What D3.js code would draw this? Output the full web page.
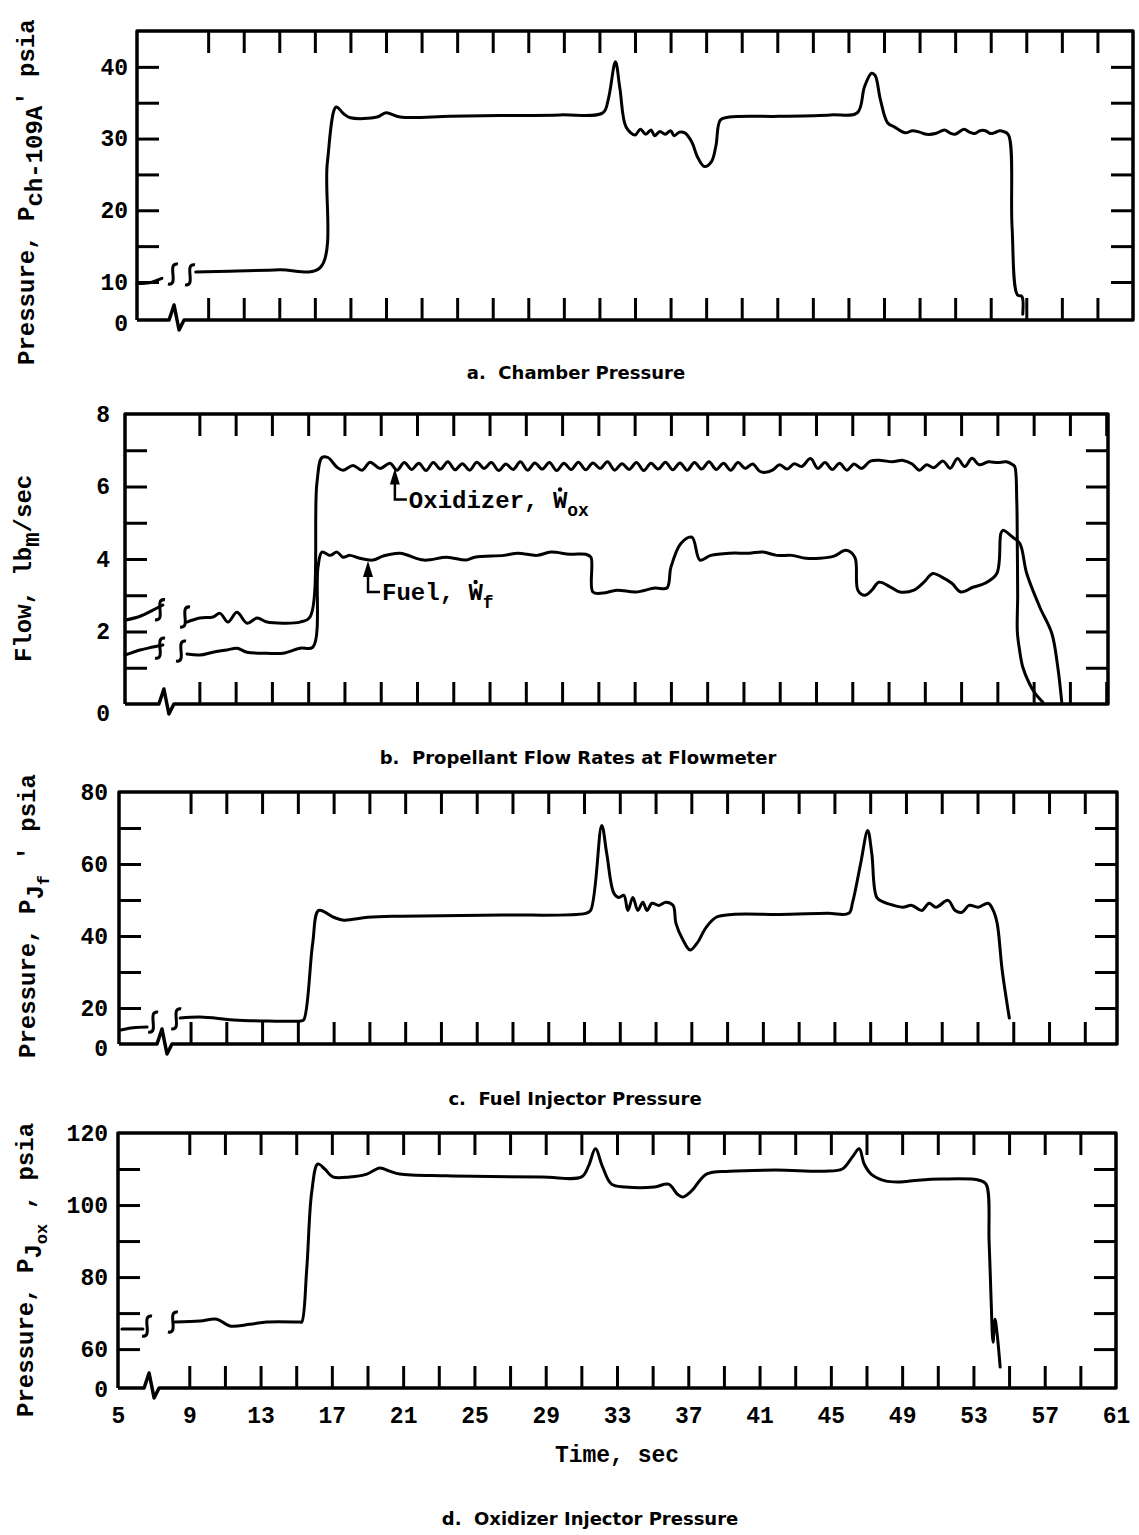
<!DOCTYPE html>
<html>
<head>
<meta charset="utf-8">
<script src="https://cdn.jsdelivr.net/npm/d3@7"></script>
<style>
  body { margin: 0; background: #fff; }
</style>
</head>
<body>
<div id="chart"></div>
<script>
// ---------- data (time in sec) ----------
const timeTicks = [9, 11, 13, 15, 17, 19, 21, 23, 25, 27, 29, 31, 33, 35, 37, 39, 41, 43, 45, 47, 49, 51, 53, 55, 57, 59];
const timeLabels = [5, 9, 13, 17, 21, 25, 29, 33, 37, 41, 45, 49, 53, 57, 61];

// a. chamber pressure, psia (suppressed zero)
const chamberYTicks = [10, 15, 20, 25, 30, 35, 40];
const chamberYLabels = ["0", "10", "20", "30", "40"];
const chamberYLabelAt = [4.7, 10, 20, 30, 40];
const chamberPre = [[5.0, 9.8], [5.7, 9.9], [6.4, 10.5]];
const chamberBreaks = [[7.02, 11.1], [7.98, 11.0]];
const chamberMain = [
  [8.3, 11.4], [10.2, 11.5], [13.0, 11.7], [15.3, 12.0], [15.7, 26.6], [16.2, 34.4], [16.6, 33.5],
  [17.0, 32.9], [18.5, 33.0], [19.0, 33.6], [19.8, 33.0], [22.6, 33.1], [25.4, 33.2], [28.8, 33.3],
  [31.2, 33.6], [31.5, 35.5], [31.9, 40.7], [32.15, 37.0], [32.5, 31.6], [33.0, 30.5], [33.3, 31.3],
  [33.6, 30.6], [33.9, 31.2], [34.1, 30.4], [34.4, 31.0], [34.7, 30.6], [35.0, 31.1], [35.2, 30.4],
  [35.5, 30.9], [35.8, 30.8], [36.2, 29.5], [36.5, 27.5], [36.9, 26.1], [37.3, 26.8], [37.55, 29.0],
  [37.8, 32.6], [38.3, 33.0], [41.1, 33.1], [44.0, 33.3], [45.5, 33.6], [45.9, 37.2], [46.3, 39.1],
  [46.5, 38.8], [46.8, 35.4], [47.2, 32.2], [47.6, 31.6], [48.2, 30.8], [48.6, 31.1], [49.0, 30.9],
  [49.4, 30.6], [49.9, 30.7], [50.4, 31.2], [50.7, 30.8], [51.0, 30.6], [51.5, 31.3], [51.8, 30.9],
  [52.1, 30.7], [52.4, 31.1], [52.7, 31.1], [53.0, 30.7], [53.2, 30.8], [53.5, 31.1], [53.7, 31.0],
  [54.0, 30.5], [54.2, 17.7], [54.5, 8.2], [54.75, 8.0], [54.8, 5.5]
];

// b. propellant flow rates, lbm/sec
const flowYTicks = [1, 2, 3, 4, 5, 6, 7];
const flowYLabels = ["0", "2", "4", "6", "8"];
const flowYLabelAt = [0, 2, 4, 6, 8];
const oxPre = [[4.9, 2.31], [5.73, 2.42], [6.44, 2.59], [6.99, 2.73]];
const oxBreaks = [[6.83, 2.6], [8.21, 2.4]];
const oxMain = [
  [8.32, 2.26], [9.03, 2.37], [9.75, 2.4], [10.14, 2.5], [10.58, 2.26], [11.07, 2.53], [11.63, 2.23],
  [12.18, 2.37], [12.73, 2.26], [13.61, 2.23], [14.55, 2.26], [15.1, 2.4], [15.48, 6.09], [15.76, 6.8],
  [16.09, 6.8], [16.59, 6.53], [16.92, 6.45], [17.47, 6.58], [17.97, 6.45], [18.41, 6.67], [18.96, 6.5],
  [19.51, 6.64], [19.9, 6.45], [20.3, 6.66], [20.7, 6.47], [21.1, 6.64], [21.5, 6.44], [21.9, 6.66],
  [22.3, 6.48], [22.7, 6.68], [23.1, 6.46], [23.5, 6.63], [23.9, 6.45], [24.3, 6.67], [24.7, 6.5],
  [25.1, 6.66], [25.5, 6.44], [25.9, 6.62], [26.3, 6.47], [26.7, 6.68], [27.1, 6.45], [27.5, 6.65],
  [27.9, 6.48], [28.3, 6.66], [28.7, 6.44], [29.1, 6.64], [29.5, 6.47], [29.9, 6.67], [30.3, 6.46],
  [30.7, 6.65], [31.1, 6.5], [31.5, 6.68], [31.9, 6.45], [32.3, 6.63], [32.7, 6.47], [33.1, 6.66],
  [33.5, 6.44], [33.9, 6.64], [34.3, 6.48], [34.7, 6.67], [35.1, 6.46], [35.5, 6.65], [35.9, 6.45],
  [36.3, 6.66], [36.7, 6.48], [37.1, 6.68], [37.5, 6.47], [37.9, 6.64], [38.3, 6.45], [38.7, 6.66],
  [39.1, 6.5], [39.5, 6.62], [39.9, 6.42], [40.2, 6.39], [40.6, 6.45], [41.0, 6.6], [41.4, 6.48],
  [41.8, 6.63], [42.2, 6.55], [42.7, 6.77], [43.1, 6.5], [43.5, 6.66], [43.9, 6.47], [44.3, 6.64],
  [44.7, 6.45], [45.1, 6.62], [45.5, 6.5], [46.0, 6.7], [46.6, 6.72], [47.2, 6.68], [47.8, 6.72],
  [48.3, 6.62], [48.7, 6.45], [49.1, 6.6], [49.5, 6.52], [50.0, 6.7], [50.4, 6.5], [50.8, 6.77],
  [51.2, 6.55], [51.6, 6.78], [52.0, 6.6], [52.5, 6.68], [53.0, 6.66], [53.5, 6.68], [53.85, 6.6],
  [53.96, 6.55], [54.07, 5.6], [54.1, 4.3], [54.12, 3.0], [54.1, 2.0], [54.22, 1.5], [54.4, 1.02],
  [54.73, 0.6], [55.07, 0.3], [55.51, 0.05]
];
const fuelPre = [[4.9, 1.35], [5.73, 1.49], [6.44, 1.57], [6.99, 1.63]];
const fuelBreaks = [[6.83, 1.54], [7.99, 1.46]];
const fuelMain = [
  [8.32, 1.38], [9.03, 1.35], [9.75, 1.43], [10.52, 1.49], [11.07, 1.54], [11.63, 1.43], [12.73, 1.4],
  [13.61, 1.4], [14.55, 1.54], [15.26, 1.57], [15.54, 3.77], [15.76, 4.19], [16.2, 4.1], [16.59, 4.19],
  [16.92, 4.05], [17.3, 4.1], [17.85, 4.02], [18.57, 3.97], [19.12, 4.08], [20.06, 4.16], [21.38, 3.97],
  [22.65, 4.05], [23.7, 3.97], [24.19, 4.05], [25.79, 4.1], [26.56, 4.16], [27.61, 4.1], [28.38, 4.19],
  [29.43, 4.13], [30.31, 4.13], [30.59, 4.05], [30.7, 3.09], [31.25, 3.06], [32.02, 3.14], [33.07, 3.09],
  [34.12, 3.2], [34.78, 3.2], [35.0, 3.77], [35.55, 4.43], [36.16, 4.6], [36.6, 3.97], [37.2, 4.1],
  [38.25, 4.16], [39.3, 4.16], [40.07, 4.19], [40.84, 4.1], [41.67, 4.1], [42.44, 4.02], [43.21, 4.02],
  [43.99, 4.08], [44.65, 4.24], [45.14, 4.05], [45.31, 3.14], [45.69, 3.0], [46.08, 3.14], [46.47, 3.36],
  [47.13, 3.22], [47.62, 3.09], [48.4, 3.14], [48.95, 3.36], [49.44, 3.6], [49.94, 3.5], [50.49, 3.33],
  [50.99, 3.09], [51.65, 3.22], [52.31, 3.33], [52.97, 3.6], [53.19, 4.7], [53.3, 4.79], [53.85, 4.6],
  [54.24, 4.43], [54.62, 3.6], [55.34, 2.67], [56.0, 1.95], [56.33, 1.02], [56.55, 0.05]
];
const flowNotes = [
  { name: "Oxidizer", sub: "ox", t: 19.78, v: 6.55 },
  { name: "Fuel", sub: "f", t: 18.3, v: 4.0 }
];

// c. fuel injector pressure, psia (suppressed zero)
const fuelInjYTicks = [20, 30, 40, 50, 60, 70];
const fuelInjYLabels = ["0", "20", "40", "60", "80"];
const fuelInjYLabelAt = [10, 20, 40, 60, 80];
const fuelInjPre = [[5.1, 13.9], [5.79, 14.5], [6.57, 14.7]];
const fuelInjBreaks = [[6.91, 16.1], [8.2, 17.0]];
const fuelInjMain = [
  [8.42, 17.2], [9.55, 17.5], [11.4, 16.7], [13.31, 16.4], [15.16, 16.4], [15.33, 16.7], [15.83, 38.0],
  [16.17, 47.1], [17.0, 45.2], [17.57, 44.4], [18.92, 45.2], [20.77, 45.5], [26.4, 45.8], [31.09, 46.3],
  [31.37, 47.1], [31.99, 70.7], [32.27, 62.9], [32.67, 51.9], [32.95, 50.7], [33.23, 51.3], [33.45, 47.1],
  [33.73, 50.7], [34.01, 47.1], [34.29, 49.4], [34.52, 47.1], [34.8, 49.1], [35.19, 48.5], [35.58, 49.4],
  [35.98, 48.5], [36.14, 43.5], [36.54, 38.8], [36.93, 36.1], [37.32, 38.0], [37.83, 42.4], [38.39, 45.2],
  [39.29, 46.0], [41.93, 46.0], [44.62, 46.3], [45.8, 46.3], [46.02, 49.4], [46.47, 60.2], [46.86, 69.3],
  [47.09, 62.9], [47.37, 50.7], [47.76, 49.4], [48.32, 48.5], [48.83, 48.0], [49.33, 48.5], [49.89, 47.1],
  [50.29, 49.1], [50.68, 48.0], [51.35, 49.9], [51.75, 47.1], [52.14, 46.6], [52.53, 48.5], [53.04, 48.0],
  [53.6, 49.1], [53.88, 47.1], [54.1, 43.5], [54.38, 30.5], [54.78, 17.2]
];

// d. oxidizer injector pressure, psia (suppressed zero)
const oxInjYTicks = [60, 70, 80, 90, 100, 110];
const oxInjYLabels = ["0", "60", "80", "100", "120"];
const oxInjYLabelAt = [49.2, 60, 80, 100, 120];
const oxInjPre = [[5.22, 65.6], [6.4, 65.6]];
const oxInjBreaks = [[6.63, 66.4], [8.08, 67.5]];
const oxInjMain = [
  [8.2, 67.5], [9.6, 67.8], [10.55, 68.3], [11.28, 66.4], [12.4, 66.9], [13.35, 67.5], [15.2, 67.5],
  [15.31, 67.5], [15.59, 82.2], [15.87, 103.6], [16.21, 111.4], [16.6, 110.0], [17.05, 107.8],
  [18.0, 107.8], [18.96, 108.6], [19.69, 110.3], [20.25, 109.4], [20.81, 108.6], [23.44, 108.1],
  [28.77, 107.8], [31.01, 107.8], [31.4, 110.8], [31.79, 115.6], [32.19, 110.6], [32.69, 105.8],
  [33.48, 105.0], [35.1, 105.0], [35.89, 105.8], [36.39, 103.0], [36.67, 102.2], [37.18, 103.9],
  [38.02, 108.6], [39.31, 109.4], [41.94, 109.7], [44.63, 109.4], [45.64, 110.0], [46.2, 113.3],
  [46.59, 115.6], [46.87, 111.4], [47.26, 108.6], [48.05, 106.7], [48.83, 106.4], [49.9, 106.9],
  [51.19, 107.2], [53.32, 106.9], [53.71, 105.8], [53.88, 89.7], [53.99, 73.9], [54.1, 61.9],
  [54.21, 68.3], [54.33, 64.2], [54.5, 55.0]
];

// ---------- drawing ----------
const MONO = "'Liberation Mono', 'DejaVu Sans Mono', monospace";
const SANS = "'DejaVu Sans', 'Liberation Sans', sans-serif";

const svg = d3.select("#chart").append("svg")
  .attr("width", 1139)
  .attr("height", 1535)
  .style("background", "#fff");

const panels = [
  { left: 137, right: 1133, top: 31, bottom: 320, tDomain: [5, 61], vDomain: [4.7, 45],
    yTicks: chamberYTicks, yLabels: chamberYLabels, yLabelAt: chamberYLabelAt, labelPad: 9, zeroShift: 3,
    segments: [chamberPre, chamberMain], breaks: chamberBreaks, axisBreak: 7.14,
    caption: "a.  Chamber Pressure", capX: 576, capY: 379 },
  { left: 125, right: 1108, top: 414, bottom: 704, tDomain: [4.9, 59.1], vDomain: [0, 8],
    yTicks: flowYTicks, yLabels: flowYLabels, yLabelAt: flowYLabelAt, labelPad: 15, zeroShift: 9,
    segments: [oxPre, oxMain, fuelPre, fuelMain], breaks: oxBreaks.concat(fuelBreaks), axisBreak: 7.1,
    caption: "b.  Propellant Flow Rates at Flowmeter", capX: 578, capY: 764 },
  { left: 119, right: 1117, top: 792, bottom: 1044, tDomain: [5, 60.8], vDomain: [10, 80],
    yTicks: fuelInjYTicks, yLabels: fuelInjYLabels, yLabelAt: fuelInjYLabelAt, labelPad: 11, zeroShift: 4,
    segments: [fuelInjPre, fuelInjMain], breaks: fuelInjBreaks, axisBreak: 7.46,
    caption: "c.  Fuel Injector Pressure", capX: 575, capY: 1105 },
  { left: 118, right: 1116, top: 1133, bottom: 1388, tDomain: [5, 61], vDomain: [49.2, 120],
    yTicks: oxInjYTicks, yLabels: oxInjYLabels, yLabelAt: oxInjYLabelAt, labelPad: 10, zeroShift: 1,
    segments: [oxInjPre, oxInjMain], breaks: oxInjBreaks, axisBreak: 6.8,
    caption: "d.  Oxidizer Injector Pressure", capX: 590, capY: 1525 }
];

function styleTicks(sel) {
  sel.select(".domain").remove();
  sel.selectAll(".tick line").attr("stroke", "#000").attr("stroke-width", 3);
}

function drawPanel(p) {
  const x = d3.scaleLinear().domain(p.tDomain).range([p.left, p.right]);
  const y = d3.scaleLinear().domain(p.vDomain).range([p.bottom, p.top]);
  const g = svg.append("g");
  const noText = () => "";

  // inward ticks on all four sides
  g.append("g").attr("transform", `translate(0,${p.top})`)
    .call(d3.axisTop(x).tickValues(timeTicks).tickSize(-22).tickFormat(noText)).call(styleTicks);
  g.append("g").attr("transform", `translate(0,${p.bottom})`)
    .call(d3.axisBottom(x).tickValues(timeTicks).tickSize(-22).tickFormat(noText)).call(styleTicks);
  g.append("g").attr("transform", `translate(${p.left},0)`)
    .call(d3.axisLeft(y).tickValues(p.yTicks).tickSize(-22).tickFormat(noText)).call(styleTicks);
  g.append("g").attr("transform", `translate(${p.right},0)`)
    .call(d3.axisRight(y).tickValues(p.yTicks).tickSize(-22).tickFormat(noText)).call(styleTicks);

  // frame, with break zigzag on the zero line
  const bx = x(p.axisBreak), B = p.bottom;
  const frame = [
    [p.left, B], [bx - 6, B], [bx - 1, B - 15], [bx + 4, B + 10], [bx + 9, B],
    [p.right, B], [p.right, p.top], [p.left, p.top], [p.left, B]
  ];
  g.append("path")
    .attr("d", d3.line()(frame))
    .attr("fill", "none")
    .attr("stroke", "#000")
    .attr("stroke-width", 3.5)
    .attr("stroke-linejoin", "round");

  // y labels
  const yl = g.append("g").attr("transform", `translate(${p.left},0)`)
    .call(d3.axisLeft(y).tickValues(p.yLabelAt).tickSize(0).tickPadding(p.labelPad)
      .tickFormat((d, i) => p.yLabels[i]));
  yl.select(".domain").remove();
  yl.selectAll("text")
    .attr("font-family", MONO)
    .attr("font-weight", "bold")
    .attr("font-size", 23)
    .attr("fill", "#000");
  yl.selectAll("text").filter((d, i) => i === 0).attr("y", p.zeroShift);

  // traces
  const line = d3.line().x(d => x(d[0])).y(d => y(d[1])).curve(d3.curveCatmullRom.alpha(0.5));
  p.segments.forEach(seg => {
    g.append("path")
      .attr("d", line(seg))
      .attr("fill", "none")
      .attr("stroke", "#000")
      .attr("stroke-width", 3)
      .attr("stroke-linejoin", "round")
      .attr("stroke-linecap", "round");
  });

  // time-break marks on the traces
  p.breaks.forEach(d => {
    const cx = x(d[0]), cy = y(d[1]);
    g.append("path")
      .attr("d", `M${cx - 5},${cy + 10} C${cx + 7},${cy + 12} ${cx - 7},${cy - 12} ${cx + 5},${cy - 10}`)
      .attr("fill", "none")
      .attr("stroke", "#000")
      .attr("stroke-width", 3);
  });

  // caption
  svg.append("text")
    .attr("x", p.capX)
    .attr("y", p.capY)
    .attr("text-anchor", "middle")
    .attr("font-family", SANS)
    .attr("font-weight", "bold")
    .attr("font-size", 18)
    .attr("xml:space", "preserve")
    .text(p.caption);

  return { x, y };
}

const scales = panels.map(drawPanel);

// flow annotations (arrow + leader + label)
const fx = scales[1].x, fy = scales[1].y;
flowNotes.forEach(n => {
  const ax = fx(n.t), tip = fy(n.v) + 2, lead = fy(n.v) + 33;
  svg.append("path")
    .attr("d", `M${ax},${tip} L${ax - 5},${tip + 16} L${ax + 5},${tip + 16} Z`)
    .attr("fill", "#000");
  svg.append("path")
    .attr("d", `M${ax},${tip + 14} L${ax},${lead} L${ax + 12},${lead}`)
    .attr("fill", "none")
    .attr("stroke", "#000")
    .attr("stroke-width", 2.5);
  const tx = ax + 14, fs = 24;
  const t = svg.append("text")
    .attr("x", tx)
    .attr("y", lead + 8)
    .attr("font-family", MONO)
    .attr("font-weight", "bold")
    .attr("font-size", fs)
    .attr("xml:space", "preserve");
  t.append("tspan").text(n.name + ", W");
  t.append("tspan").attr("dy", 8).attr("font-size", 18).text(n.sub);
  const wx = tx + (n.name.length + 2) * fs * 0.6 + fs * 0.3;
  svg.append("circle").attr("cx", wx).attr("cy", lead - 10).attr("r", 2.2).attr("fill", "#000");
});

// x labels on the last panel
const dx = scales[3].x;
const xl = svg.append("g").attr("transform", `translate(0,${panels[3].bottom})`)
  .call(d3.axisBottom(dx).tickValues(timeLabels).tickSize(0).tickPadding(19).tickFormat(d3.format("d")));
xl.select(".domain").remove();
xl.selectAll("text")
  .attr("font-family", MONO)
  .attr("font-weight", "bold")
  .attr("font-size", 23)
  .attr("fill", "#000");

svg.append("text")
  .attr("x", 617)
  .attr("y", 1462)
  .attr("text-anchor", "middle")
  .attr("font-family", MONO)
  .attr("font-weight", "bold")
  .attr("font-size", 23)
  .text("Time, sec");

// rotated y titles
function yTitle(bx, by, parts) {
  const t = svg.append("text")
    .attr("transform", `translate(${bx},${by}) rotate(-90)`)
    .attr("font-family", MONO)
    .attr("font-weight", "bold")
    .attr("font-size", 24)
    .attr("xml:space", "preserve");
  parts.forEach(pt => {
    const s = t.append("tspan").text(pt.text);
    if (pt.dy) s.attr("dy", pt.dy);
    if (pt.size) s.attr("font-size", pt.size);
  });
}

yTitle(34, 365, [{ text: "Pressure, P" }, { text: "ch-109A", dy: 8 }, { text: "' psia", dy: -8 }]);
yTitle(31, 662, [{ text: "Flow, lb" }, { text: "m", dy: 8 }, { text: "/sec", dy: -8 }]);
yTitle(35, 1058, [{ text: "Pressure, P" }, { text: "J", dy: 8 }, { text: "f", dy: 6, size: 17 }, { text: " ' psia", dy: -14 }]);
yTitle(33, 1417, [{ text: "Pressure, P" }, { text: "J", dy: 8 }, { text: "ox", dy: 6, size: 17 }, { text: " , psia", dy: -14 }]);
</script>
</body>
</html>
